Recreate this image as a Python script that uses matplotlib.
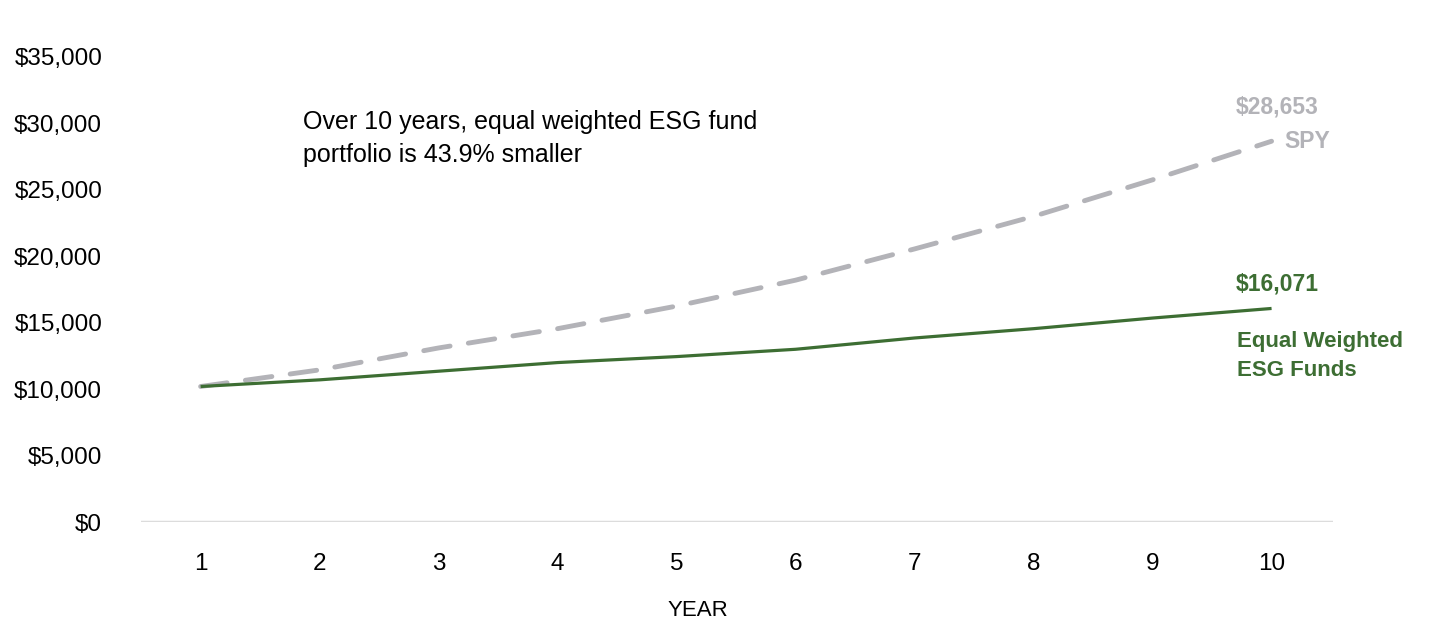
import matplotlib
matplotlib.use("Agg")
import matplotlib.pyplot as plt
from matplotlib.ticker import FuncFormatter

plt.rcParams['font.family'] = ['Liberation Sans', 'DejaVu Sans']

# Data
years = [1, 2, 3, 4, 5, 6, 7, 8, 9, 10]
spy = [10200, 11450, 13100, 14550, 16250, 18200, 20550, 23000, 25750, 28653]
esg = [10200, 10700, 11350, 12000, 12450, 13000, 13850, 14550, 15350, 16071]
y_ticks = [0, 5000, 10000, 15000, 20000, 25000, 30000, 35000]

green = '#3d6e33'
grey = '#b3b3b8'

fig = plt.figure(figsize=(14.4, 6.39), dpi=100)
ax = fig.add_axes([0.098, 0.183, 0.828, 0.728])

ax.plot(years, spy, color=grey, lw=3.5, dashes=(5.5, 3.8), dash_capstyle='round')
ax.plot(years, esg, color=green, lw=2.3, solid_capstyle='butt')
ax.axhline(0, color='#dcdcdc', lw=2.5, zorder=0)

ax.set_xlim(0.5, 10.52)
ax.set_ylim(0, 35000)
ax.set_xticks(years)
ax.set_yticks(y_ticks)
ax.yaxis.set_major_formatter(FuncFormatter(lambda v, p: f"${v:,.0f}"))
ax.tick_params(axis='both', length=0, labelsize=17.5, colors='black')
ax.tick_params(axis='y', pad=28)
ax.tick_params(axis='x', pad=22)
for s in ax.spines.values():
    s.set_visible(False)

fig.text(698 / 1440, 1 - 611 / 639, 'YEAR', ha='center', va='center', fontsize=16)

ax.text(0.136, 0.885, 'Over 10 years, equal weighted ESG fund\nportfolio is 43.9% smaller',
        transform=ax.transAxes, ha='left', va='top', fontsize=18, linespacing=1.45)

# end labels
ax.annotate(f"${spy[-1]:,}", (years[-1], spy[-1]), xytext=(1319, 639 - 107),
            textcoords='figure pixels', ha='right', va='center', fontsize=16.5,
            fontweight='bold', color=grey)
ax.annotate('SPY', (years[-1], spy[-1]), xytext=(1330, 639 - 141),
            textcoords='figure pixels', ha='right', va='center', fontsize=16.5,
            fontweight='bold', color=grey)
ax.annotate(f"${esg[-1]:,}", (years[-1], esg[-1]), xytext=(1236, 639 - 284),
            textcoords='figure pixels', ha='left', va='center', fontsize=16.5,
            fontweight='bold', color=green)
ax.annotate('Equal Weighted\nESG Funds', (years[-1], esg[-1]), xytext=(1237, 639 - 356),
            textcoords='figure pixels', ha='left', va='center', fontsize=16,
            fontweight='bold', color=green, linespacing=1.55)

fig.savefig('out.png', dpi=100)
